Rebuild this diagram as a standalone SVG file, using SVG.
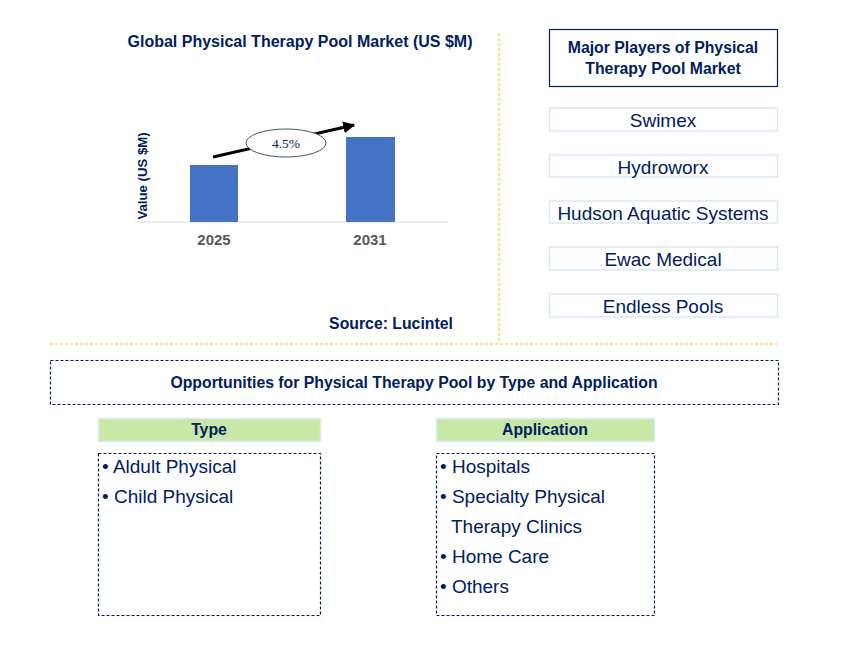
<svg xmlns="http://www.w3.org/2000/svg" width="843" height="657" viewBox="0 0 843 657">
<defs>
<marker id="ah" viewBox="0 0 10 10" refX="9" refY="5" markerWidth="4" markerHeight="4" orient="auto" markerUnits="strokeWidth">
<path d="M0,0 L10,5 L0,10 z" fill="#000"/>
</marker>
<style>
.t{font-family:"Liberation Sans",Arial,sans-serif;fill:#002060}
.b{font-weight:bold}
.h{font-size:15.8px;font-weight:bold}
.pl{fill:#fff;stroke:#DAE9F7;stroke-width:1.5}
.hd{fill:#C9E7A7;stroke:#DAE9F7;stroke-width:1.5}
.dash{fill:none;stroke:#002060;stroke-width:1.2;stroke-dasharray:3,2}
.gold{stroke:#FFC000;stroke-width:1;stroke-dasharray:3,2;fill:none}
.li{font-size:19px}
.yr{font-family:"Liberation Sans",Arial,sans-serif;font-weight:bold;font-size:15px;fill:#595959}
</style>
</defs>
<rect width="843" height="657" fill="#fff"/>
<g id="dividers">
<line class="gold" x1="499" y1="33" x2="499" y2="343"/>
<line class="gold" x1="50" y1="344" x2="778" y2="344"/>
</g>
<g id="chart">
<text class="t b" x="300" y="47" font-size="16" text-anchor="middle">Global Physical Therapy Pool Market (US $M)</text>
<text class="t b" font-size="13.2" text-anchor="middle" transform="translate(147,176) rotate(-90)">Value (US $M)</text>
<line x1="135" y1="222" x2="448" y2="222" stroke="#D9D9D9" stroke-width="1"/>
<rect x="190" y="165" width="48" height="57" fill="#4472C4"/>
<rect x="346" y="137" width="49" height="85" fill="#4472C4"/>
<text class="yr" x="214" y="245" text-anchor="middle">2025</text>
<text class="yr" x="370" y="245" text-anchor="middle">2031</text>
</g>
<g id="connectors">
<line x1="213" y1="157" x2="354" y2="125" stroke="#000" stroke-width="3" marker-end="url(#ah)"/>
</g>
<g id="cagr">
<ellipse cx="286" cy="143" rx="40" ry="14" fill="#fff" stroke="#44546A" stroke-width="1"/>
<text x="286" y="148" font-size="13.5" text-anchor="middle" font-family="Liberation Serif,'Times New Roman',serif" fill="#002060">4.5%</text>
</g>
<g id="source">
<text class="t h" x="391" y="329" text-anchor="middle">Source: Lucintel</text>
</g>
<g id="players-title">
<rect x="549.5" y="29.5" width="228" height="57" fill="#fff" stroke="#002060" stroke-width="1.2"/>
<text class="t h" x="663" y="53" text-anchor="middle">Major Players of Physical</text>
<text class="t h" x="663" y="74" text-anchor="middle">Therapy Pool Market</text>
</g>
<g id="player-swimex">
<rect class="pl" x="549.5" y="108" width="228" height="23"/>
<text class="t li" x="663" y="127" text-anchor="middle">Swimex</text>
</g>
<g id="player-hydroworx">
<rect class="pl" x="549.5" y="155" width="228" height="22"/>
<text class="t li" x="663" y="174" text-anchor="middle">Hydroworx</text>
</g>
<g id="player-hudson">
<rect class="pl" x="549.5" y="201" width="228" height="22"/>
<text class="t li" x="663" y="220" text-anchor="middle">Hudson Aquatic Systems</text>
</g>
<g id="player-ewac">
<rect class="pl" x="549.5" y="247" width="228" height="23"/>
<text class="t li" x="663" y="266" text-anchor="middle">Ewac Medical</text>
</g>
<g id="player-endless">
<rect class="pl" x="549.5" y="294" width="228" height="23"/>
<text class="t li" x="663" y="313" text-anchor="middle">Endless Pools</text>
</g>
<g id="opportunities">
<rect class="dash" x="50.5" y="360.5" width="728" height="44"/>
<text class="t h" x="414" y="388" text-anchor="middle">Opportunities for Physical Therapy Pool by Type and Application</text>
</g>
<g id="type-header">
<rect class="hd" x="98.5" y="418.5" width="222" height="23"/>
<text class="t h" x="209" y="435" text-anchor="middle">Type</text>
</g>
<g id="type-list">
<rect class="dash" x="98.5" y="453.5" width="222" height="162"/>
<text class="t li" x="102" y="473">• Aldult Physical</text>
<text class="t li" x="102" y="503">• Child Physical</text>
</g>
<g id="app-header">
<rect class="hd" x="436.5" y="418.5" width="218" height="23"/>
<text class="t h" x="545" y="435" text-anchor="middle">Application</text>
</g>
<g id="app-list">
<rect class="dash" x="436.5" y="453.5" width="218" height="162"/>
<text class="t li" x="440" y="473">• Hospitals</text>
<text class="t li" x="440" y="503">• Specialty Physical</text>
<text class="t li" x="451" y="533">Therapy Clinics</text>
<text class="t li" x="440" y="563">• Home Care</text>
<text class="t li" x="440" y="593">• Others</text>
</g>
</svg>
